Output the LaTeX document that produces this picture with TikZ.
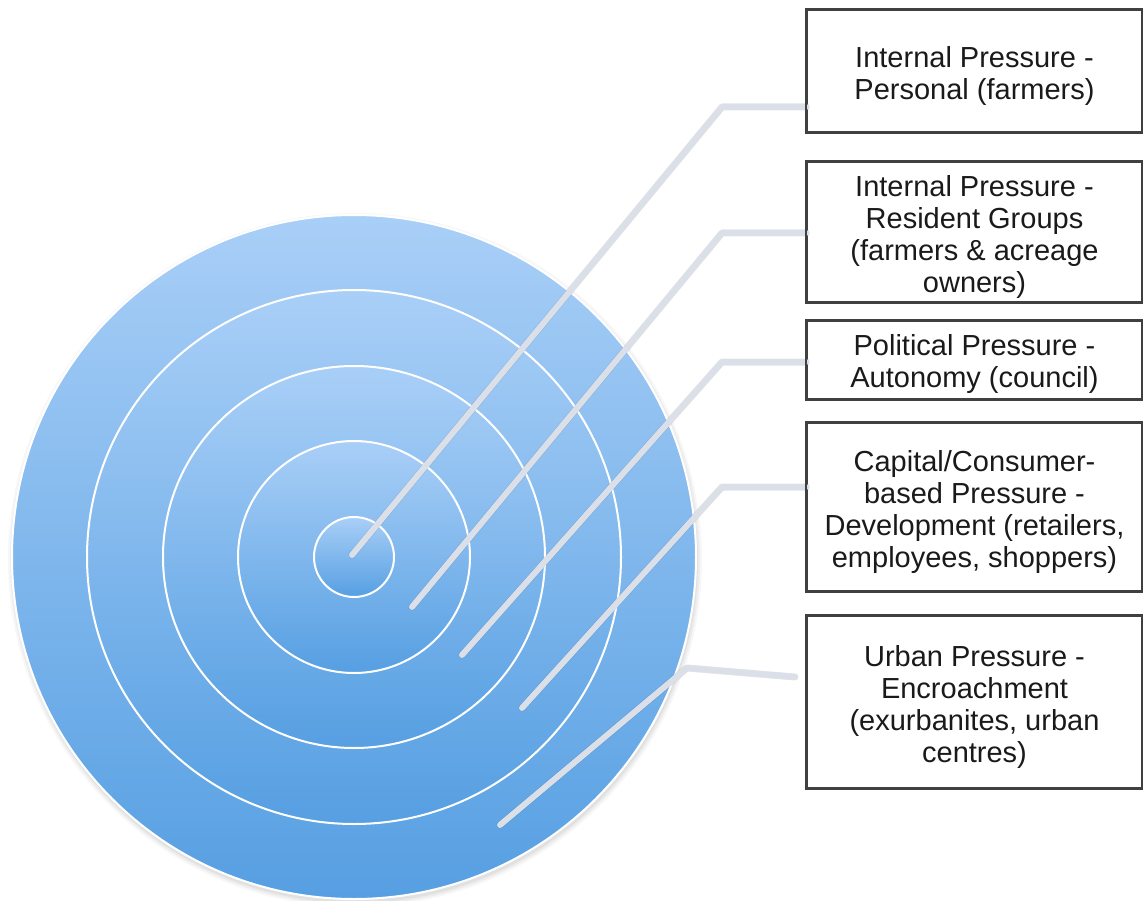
\documentclass[tikz,border=0pt]{standalone}
\usepackage{fontspec}
\setmainfont{Liberation Sans}
\definecolor{ringtop}{HTML}{A9CFF7}
\definecolor{ringbot}{HTML}{569FE2}
\definecolor{connc}{HTML}{DBE0E8}
\definecolor{boxc}{HTML}{404040}
\definecolor{textc}{HTML}{1A1A1A}
\begin{document}
\begin{tikzpicture}[x=1pt,y=-1pt,
  ring/.style={circle, inner sep=0pt, outer sep=0pt, top color=ringtop, bottom color=ringbot, draw=white, line width=2pt},
  conn/.style={draw=connc, line width=6pt, line cap=round, line join=round},
  connshade/.style={draw=black, opacity=0.10, line width=7pt, line cap=round, line join=round},
  box/.style={rectangle, draw=boxc, line width=1.6pt, fill=white, inner sep=0pt, minimum width=335pt},
  boxtext/.style={align=center, font=\fontsize{29}{32}\selectfont, text=textc, yshift=-4.5pt, inner sep=0pt}]
\useasboundingbox (0,0) rectangle (1143,901);

% soft shadow under the target
\foreach \r/\o in {347/0.03,345/0.04,343/0.05}
  \fill[black, opacity=\o] (355,560) circle[radius=\r];

% concentric rings, largest first
\node[ring, minimum size=684pt] (c5) at (354,557) {};
\node[ring, minimum size=534pt] (c4) at (354,557) {};
\node[ring, minimum size=382pt] (c3) at (354,557) {};
\node[ring, minimum size=232pt] (c2) at (354,557) {};
\node[ring, minimum size=80pt]  (c1) at (354,557) {};

% label boxes
\node[box, minimum height=122pt, label={[boxtext]center:{Internal Pressure -\\Personal (farmers)}}] (b1) at (974.5,71) {};
\node[box, minimum height=140pt, label={[boxtext]center:{Internal Pressure -\\Resident Groups\\(farmers \& acreage\\owners)}}] (b2) at (974.5,232) {};
\node[box, minimum height=78pt, label={[boxtext]center:{Political Pressure -\\Autonomy (council)}}] (b3) at (974.5,360) {};
\node[box, minimum height=168pt, label={[boxtext]center:{Capital/Consumer-\\based Pressure -\\Development (retailers,\\employees, shoppers)}}] (b4) at (974.5,507) {};
\node[box, minimum height=172pt, label={[boxtext]center:{Urban Pressure -\\Encroachment\\(exurbanites, urban\\centres)}}] (b5) at (974.5,702) {};

% connector anchor points
\coordinate (s1) at (352,555);
\coordinate (k1) at (722,107);
\coordinate (s2) at (412,607);
\coordinate (k2) at (722,233);
\coordinate (s3) at (462,655);
\coordinate (k3) at (722,362);
\coordinate (s4) at (522,708);
\coordinate (k4) at (722,487);
\coordinate (s5) at (500,825);
\coordinate (k5) at (687,668);
\coordinate (t5) at (795,677);

% connectors with a faint shadow
\begin{scope}[shift={(1,2)}]
  \draw[connshade] (s1) -- (k1) -- (k1 -| b1.west);
  \draw[connshade] (s2) -- (k2) -- (k2 -| b2.west);
  \draw[connshade] (s3) -- (k3) -- (k3 -| b3.west);
  \draw[connshade] (s4) -- (k4) -- (k4 -| b4.west);
  \draw[connshade] (s5) -- (k5) -- (t5);
\end{scope}
\draw[conn] (s1) -- (k1) -- (k1 -| b1.west);
\draw[conn] (s2) -- (k2) -- (k2 -| b2.west);
\draw[conn] (s3) -- (k3) -- (k3 -| b3.west);
\draw[conn] (s4) -- (k4) -- (k4 -| b4.west);
\draw[conn] (s5) -- (k5) -- (t5);

% redraw box borders over connector ends
\foreach \b in {b1,b2,b3,b4,b5}
  \draw[boxc, line width=1.6pt] (\b.south west) rectangle (\b.north east);
\end{tikzpicture}
\end{document}
